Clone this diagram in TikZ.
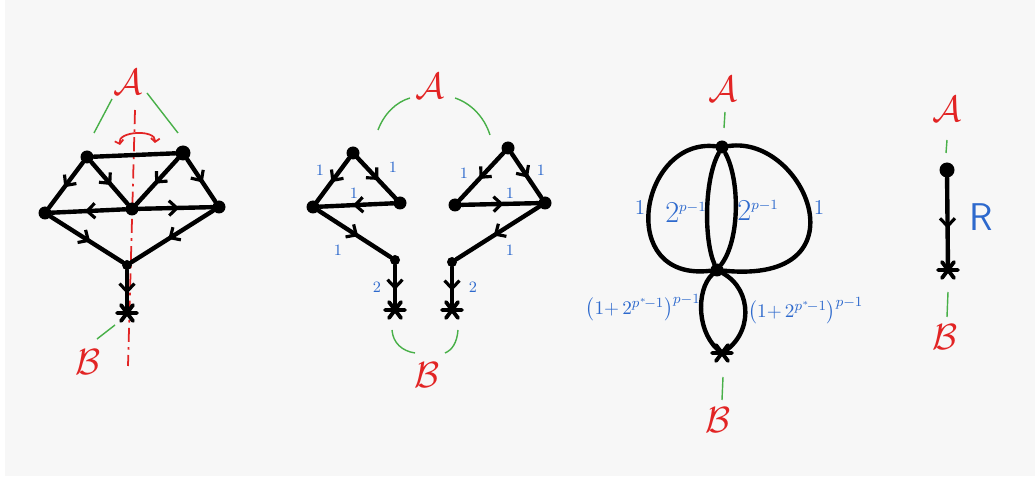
\documentclass[tikz,border=0pt]{standalone}
\definecolor{labred}{RGB}{226, 36, 36}
\definecolor{wtblue}{RGB}{45, 105, 205}
\definecolor{linkgreen}{RGB}{72, 176, 72}
\definecolor{paper}{RGB}{247, 247, 247}
\usepackage{tikz}
\usetikzlibrary{arrows.meta, positioning, decorations.markings}
\usepackage{amsmath, amssymb}

\tikzset{
  vtx/.style={circle, fill=black, inner sep=0pt, minimum size=0.26cm},
  edge/.style={line width=2.5pt, line cap=round},
  midarrow/.style={postaction={decorate, decoration={markings,
      mark=at position #1 with {\arrow{Straight Barb[length=4.5pt, width=8.5pt, line width=1.8pt]}}}}},
  midarrow/.default=0.55,
  endlabel/.style={text=labred, font=\fontsize{21}{24}\selectfont},
  wlabel/.style={text=wtblue, font=\fontsize{9}{11}\selectfont},
  link/.style={linkgreen, line width=0.8pt},
  starmark/.pic={\draw[line width=2.2pt, line cap=round] (-10,0) -- (10,0) (-6,-8) -- (6,8) (-6,8) -- (6,-8);}
}

\begin{document}
\begin{tikzpicture}[x=0.02cm, y=-0.02cm]
  \useasboundingbox (0,0) rectangle (1035,479);
  \fill[white] (0,0) rectangle (1035,479);
  \fill[paper] (5,0) rectangle (1035,476);

  % first graph, with its mirror axis
  \draw[labred, line width=1pt, dash pattern=on 8pt off 3pt on 1.5pt off 3pt] (135,110) -- (128,366);
  \draw[labred, line width=1pt, {Straight Barb[length=2pt, width=5pt]}-{Straight Barb[length=2pt, width=5pt]}]
    (120,145) .. controls (117,131) and (156,129) .. (155,143);
  \node[endlabel] (a1) at (128,82) {$\mathcal{A}$};
  \node[endlabel] (b1) at (88,362) {$\mathcal{B}$};
  \draw[link] (112,99) -- (94,133);
  \draw[link] (147,93) -- (178,133);
  \draw[link] (97,339) -- (115,325);
  \node[vtx] (tl) at (87,157) {};
  \node[vtx, minimum size=0.3cm] (tr) at (183,153) {};
  \node[vtx] (l) at (45,213) {};
  \node[vtx] (c) at (132,209) {};
  \node[vtx] (r) at (219,207) {};
  \node[vtx, minimum size=0.2cm] (bt) at (127,265) {};
  \coordinate (st) at (127,313);
  \pic at (st) {starmark};
  \draw[edge] (tl) -- (tr);
  \draw[edge, midarrow] (tl) -- (l);
  \draw[edge, midarrow] (tl) -- (c);
  \draw[edge, midarrow] (tr) -- (c);
  \draw[edge, midarrow] (tr) -- (r);
  \draw[edge, midarrow] (c) -- (l);
  \draw[edge, midarrow] (c) -- (r);
  \draw[edge, midarrow] (l) -- (bt);
  \draw[edge, midarrow] (r) -- (bt);
  \draw[edge, midarrow] (bt) -- (st);

  % second graph: the two halves
  \node[endlabel] (a2) at (430,86) {$\mathcal{A}$};
  \node[endlabel] (b2) at (427,375) {$\mathcal{B}$};
  \draw[link] (410,98) .. controls (396,102) and (384,114) .. (378,130);
  \draw[link] (455,98) .. controls (470,103) and (484,116) .. (490,135);
  \draw[link] (392,330) .. controls (393,343) and (402,351) .. (415,353);
  \draw[link] (458,330) .. controls (457,343) and (452,350) .. (445,353);
  \node[vtx] (lt) at (353,153) {};
  \node[vtx] (ll) at (313,207) {};
  \node[vtx] (lr) at (400,203) {};
  \node[vtx, minimum size=0.2cm] (lb) at (395,260) {};
  \coordinate (ls) at (395,310);
  \pic at (ls) {starmark};
  \draw[edge, midarrow] (lt) -- (ll);
  \draw[edge, midarrow] (lt) -- (lr);
  \draw[edge, midarrow] (lr) -- (ll);
  \draw[edge, midarrow] (ll) -- (lb);
  \draw[edge, midarrow] (lb) -- (ls);
  \node[wlabel] (w1) at (320,170) {1};
  \node[wlabel] (w2) at (393,167) {1};
  \node[wlabel] (w3) at (354,193) {1};
  \node[wlabel] (w4) at (338,250) {1};
  \node[wlabel] (w5) at (377,287) {2};
  \node[vtx] (rt) at (508,148) {};
  \node[vtx] (rl) at (455,205) {};
  \node[vtx] (rr) at (545,203) {};
  \node[vtx, minimum size=0.2cm] (rb) at (452,262) {};
  \coordinate (rs) at (452,310);
  \pic at (rs) {starmark};
  \draw[edge, midarrow] (rt) -- (rl);
  \draw[edge, midarrow] (rt) -- (rr);
  \draw[edge, midarrow] (rl) -- (rr);
  \draw[edge, midarrow] (rr) -- (rb);
  \draw[edge, midarrow] (rb) -- (rs);
  \node[wlabel] (w6) at (464,173) {1};
  \node[wlabel] (w7) at (541,170) {1};
  \node[wlabel] (w8) at (510,193) {1};
  \node[wlabel] (w9) at (510,250) {1};
  \node[wlabel] (w10) at (473,287) {2};

  % third graph: reduced multigraph
  \node[endlabel] (a3) at (723,89) {$\mathcal{A}$};
  \node[endlabel] (b3) at (718,420) {$\mathcal{B}$};
  \draw[link] (725,112) -- (724,128);
  \draw[link] (723,377) -- (722,400);
  \node[vtx] (ht) at (722,147) {};
  \node[vtx] (hm) at (717,270) {};
  \coordinate (hs) at (722,353);
  \pic at (hs) {starmark};
  \draw[edge] (ht) .. controls (640,138) and (615,282) .. (hm);
  \draw[edge] (ht) .. controls (805,135) and (868,285) .. (hm);
  \draw[edge] (ht) .. controls (704,180) and (704,240) .. (hm);
  \draw[edge] (ht) .. controls (740,180) and (740,240) .. (hm);
  \draw[edge] (hm) .. controls (696,290) and (696,335) .. (hs);
  \draw[edge] (hm) .. controls (753,290) and (753,335) .. (hs);
  \node[wlabel, font=\fontsize{12}{14}\selectfont] (u1) at (640,207) {1};
  \node[wlabel, font=\fontsize{12}{14}\selectfont] (u2) at (819,207) {1};
  \node[wlabel, font=\fontsize{17}{19}\selectfont, anchor=east, inner sep=0pt] (u3) at (707,212) {$2^{\scriptscriptstyle p-1}$};
  \node[wlabel, font=\fontsize{17}{19}\selectfont, anchor=west, inner sep=0pt] (u4) at (737,210) {$2^{\scriptscriptstyle p-1}$};
  \node[wlabel, font=\fontsize{11}{13}\selectfont, anchor=east, inner sep=0pt] (u5) at (701,308) {$\bigl(1{+}\,2^{p^*\!-1}\bigr)^{p-1}$};
  \node[wlabel, font=\fontsize{11}{13}\selectfont, anchor=west, inner sep=0pt] (u6) at (748,311) {$\bigl(1{+}\,2^{p^*\!-1}\bigr)^{p-1}$};

  % fourth graph: one edge
  \node[endlabel] (a4) at (947,109) {$\mathcal{A}$};
  \node[endlabel] (b4) at (945,337) {$\mathcal{B}$};
  \draw[link] (947,140) -- (946,153);
  \draw[link] (948,292) -- (947,317);
  \node[vtx, minimum size=0.3cm] (kt) at (947,170) {};
  \coordinate (ks) at (948,270);
  \pic at (ks) {starmark};
  \draw[edge, midarrow] (kt) -- (ks);
  \node[text=wtblue, font=\fontsize{22}{24}\sffamily] (rw) at (981,217) {R};
\end{tikzpicture}
\end{document}
